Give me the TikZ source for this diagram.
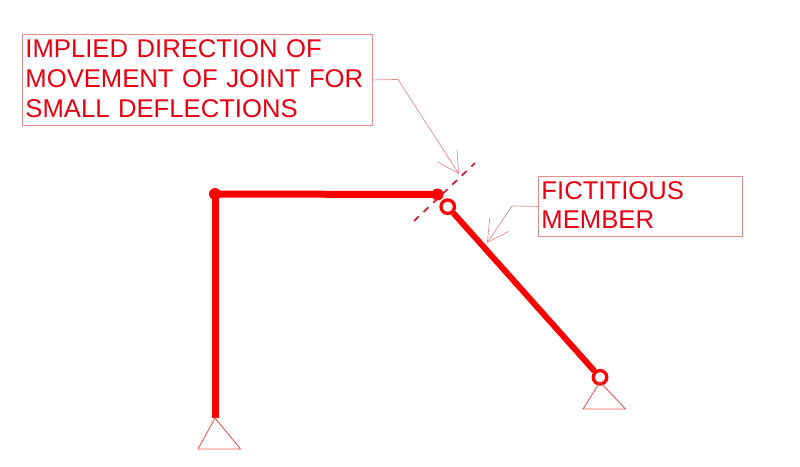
\documentclass[tikz,border=0pt]{standalone}
\usepackage{fontspec}
\setmainfont{Liberation Sans}
\usetikzlibrary{arrows.meta}
\definecolor{framered}{RGB}{226,140,140}
\definecolor{labelred}{RGB}{232,0,18}
\definecolor{dashred}{RGB}{205,30,50}
\tikzset{
	member/.style={draw=red,line width=0.12cm},
	pin/.style={circle,fill=red,inner sep=0pt,minimum size=0.24cm},
	hinge/.style={circle,draw=red,fill=white,line width=0.066cm,inner sep=0pt,minimum size=0.27cm},
	support/.style={draw=framered!60!red,line width=0.5pt},
	leader/.style={draw=framered,line width=0.4pt,-{Straight Barb[length=0.42cm,width=0.46cm,line width=0.4pt]}},
	note/.style={draw=framered,line width=0.5pt,anchor=north west,align=left,inner sep=0pt,
		text=labelred,font=\fontsize{14.6}{17}\selectfont},
}
\begin{document}
\begin{tikzpicture}[x=0.02cm,y=-0.02cm]
		\useasboundingbox (0,0) rectangle (800,466);
		% joints
		\node[pin] (corner) at (215,194) {};
		\node[pin] (knee) at (437.5,194.5) {};
		\node[hinge] (top) at (447.7,206.7) {};
		\node[hinge] (bottom) at (600,377.3) {};
		\coordinate (basea) at (215,418);
		\coordinate (baseb) at (600,382);
		%% members
		\draw[member,line width=0.14cm] (corner.center) -- (knee.center);
		\draw[member,line width=0.14cm] (corner.center) -- (basea);
		\draw[member] (top) -- (bottom);
		%% supports
		\draw[support] (basea) -- ++(-17,31) -- ++(42.5,0) -- cycle;
		\draw[support] (baseb) -- ++(-17,27) -- ++(42.5,0) -- cycle;
		% direction of movement
		\coordinate (dasha) at (414,221);
		\coordinate (dashb) at (475,163);
		\draw[dashred,line width=1pt,dash pattern=on 3.8pt off 3.7pt] (dasha) -- (dashb);
		%% labels
		\node[note,minimum width=7cm,minimum height=1.82cm,text width=6.88cm] (implied) at (22,34)
			{IMPLIED DIRECTION OF\\MOVEMENT OF JOINT FOR\\SMALL DEFLECTIONS\vspace{1.6pt}};
		\node[note,minimum width=4.08cm,minimum height=1.2cm,text width=3.96cm] (fictitious) at (538,176)
			{FICTITIOUS\\MEMBER\vspace{1.6pt}};
		\coordinate (benda) at (398,79.5);
		\coordinate (tipa) at (459,174);
		\coordinate (bendb) at (512,206);
		\coordinate (tipb) at (487,243);
		\draw[leader] (implied.east) -- (benda) -- (tipa);
		\draw[leader] (fictitious.west) -- (bendb) -- (tipb);
\end{tikzpicture}
\end{document}
